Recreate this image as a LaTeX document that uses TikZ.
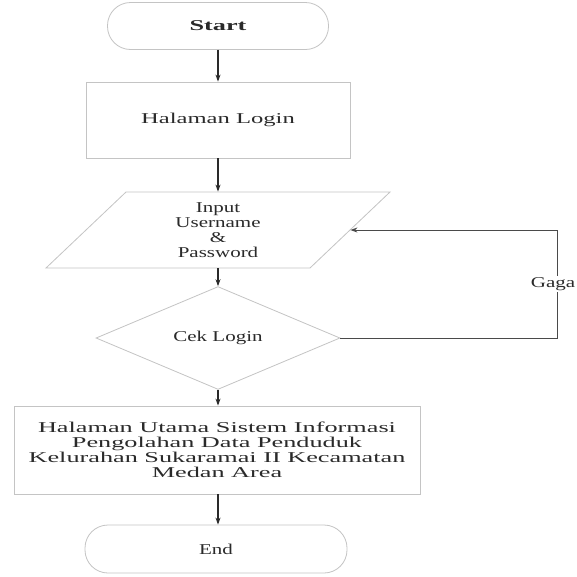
\documentclass[tikz,border=0pt]{standalone}
\usepackage{fontspec}
\setmainfont{Liberation Serif}
\newfontfamily\fA[FakeStretch=1.4]{Liberation Serif}
\newfontfamily\fB[FakeStretch=1.64]{Liberation Serif}
\newfontfamily\fC[FakeStretch=1.75]{Liberation Serif}
\usetikzlibrary{shapes.geometric,arrows.meta,calc}
\definecolor{outl}{HTML}{C4C4C4}
\definecolor{ink}{HTML}{2A2A2A}
\begin{document}
\begin{tikzpicture}[x=1pt,y=-1pt,
  shp/.style={draw=outl,line width=0.8pt,inner sep=0pt,text=ink,align=center,
              font=\fA\fontsize{15}{15}\selectfont},
  term/.style={shp,rounded corners=23pt},
  proc/.style={shp},
  pio/.style={shp,draw=none},
  dec/.style={shp,diamond},
  flow/.style={draw=ink,line width=1.1pt,-{Stealth[length=7pt,width=5pt]}},
  back/.style={draw=ink!85,line width=1pt,-{Stealth[length=7pt,width=5pt]}},
  lbl/.style={fill=white,inner sep=1pt,text=ink,font=\fA\fontsize{15}{15}\selectfont}]
\useasboundingbox (0,0) rectangle (577,576);
\fill[white] (0,0) rectangle (577,576);

\node[term,minimum width=221pt,minimum height=47pt] (start) at (218,26)
  {\fC\bfseries\fontsize{15}{15}\selectfont Start};
\node[proc,minimum width=264pt,minimum height=76pt] (login) at (218,120)
  {\fB\fontsize{15}{15}\selectfont Halaman Login};
\node[pio,minimum width=264pt,minimum height=76pt] (input) at (218,230)
  {Input\\Username\\\&\\Password};
\draw[outl,line width=0.8pt] ($(input.center)+(-92,-38)$) -- ($(input.center)+(172,-38)$)
  -- ($(input.center)+(92,38)$) -- ($(input.center)+(-172,38)$) -- cycle;
\node[dec,minimum width=244pt,minimum height=73pt] (cek) at (218,338) {Cek Login};
\node[proc,minimum width=406pt,minimum height=88pt] (main) at (217,450)
  {\fC\fontsize{15}{13.6}\selectfont Halaman Utama Sistem Informasi\\
   \fC\fontsize{15}{13.6}\selectfont Pengolahan Data Penduduk\\
   \fC\fontsize{15}{13.6}\selectfont Kelurahan Sukaramai II Kecamatan\\
   \fC\fontsize{15}{13.6}\selectfont Medan Area};
\node[term,minimum width=262pt,minimum height=48pt] (end) at (216,549) {End};

\coordinate (c1) at (557,338);
\coordinate (c2) at (557,230);

\draw[flow] (start.south -| login.north) -- (login.north);
\draw[flow] (login.south) -- (input.north);
\draw[flow] (input.south) -- (cek.north);
\draw[flow] (cek.south) -- (cek.south |- main.north);
\draw[flow] (cek.south |- main.south) -- (cek.south |- end.north);
\draw[back] (cek.east) -- (c1) -- node[lbl,xshift=-4pt] {Gaga} (c2) -- (input.east);
\end{tikzpicture}
\end{document}
